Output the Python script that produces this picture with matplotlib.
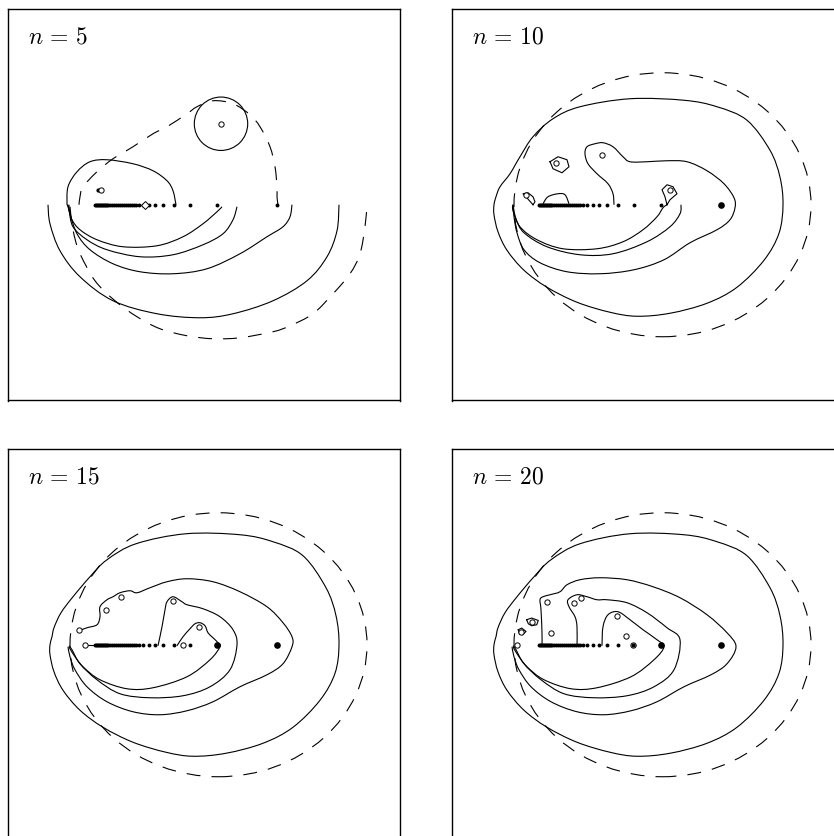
import numpy as np
import matplotlib.pyplot as plt
from matplotlib.patches import Ellipse, Circle, PathPatch
from matplotlib.path import Path

plt.rc('mathtext', fontset='cm')
plt.rc('lines', scale_dashes=False)

LW = 0.8
DASH = (10, 8)

labels = [r'$n\, =\, 5$', r'$n\, =\, 10$', r'$n\, =\, 15$', r'$n\, =\, 20$']

# points on the real axis (same sequence for every n)
axis_x = [87, 88, 89, 90, 91, 92, 93, 94, 95, 96, 97, 98, 99, 100, 102, 104,
          106, 108, 110, 112, 114, 116, 118, 120, 122, 124, 126, 128, 131,
          135, 141, 147, 155, 166, 182, 209, 269]

# ---- n = 5 ----
n5_dash_upper = [(71, 0), (72, 8), (75, 18), (89, 33), (105, 46), (125, 58),
                 (145, 71), (159, 78), (179, 91), (189, 98), (205, 104),
                 (225, 101), (242, 90), (252, 78), (262, 58), (267, 38),
                 (269, 18), (269, 8), (270, 0)]
n5_dash_lower = [(62, -2), (64, -19), (67, -34), (72, -49), (87, -76),
                 (107, -96), (129, -112), (152, -124), (179, -131), (205, -134),
                 (232, -133), (265, -127), (282, -121), (305, -109), (325, -89),
                 (342, -69), (352, -49), (357, -22), (359, 0)]
n5_circle = (213, 81, 26.7)
n5_loop = [(168, 0), (165, 14), (159, 24), (145, 34), (125, 41), (99, 45),
           (82, 43), (69, 33), (60, 18), (59, 0)]
n5_a = [(59, 0), (60, -2), (64, -15), (72, -25), (89, -35), (115, -42),
        (149, -41), (175, -32), (195, -19), (209, -7), (214, -2)]
n5_b = [(60, 0), (61, -5), (65, -22), (79, -35), (99, -45), (132, -52),
        (165, -50), (195, -40), (215, -29), (225, -15), (229, -2)]
n5_c = [(61, 0), (62, -9), (69, -29), (82, -45), (105, -59), (132, -67),
        (165, -69), (199, -64), (232, -49), (259, -32), (275, -22), (282, -12),
        (284, 0)]
n5_arc = [(40, 0), (42, -19), (52, -46), (72, -72), (105, -96), (149, -109),
          (192, -113), (225, -109), (265, -96), (299, -76), (319, -52),
          (329, -26), (331, 0)]

# ---- shared by n = 10, 15, 20 ----
ell_center = (210.5, 0)
ell_w, ell_h = 297, 264
outer_low = [(331, 0), (327, -28.5), (312, -55.5), (285, -82.5),
             (255, -98.5), (218, -108.5), (185, -111.5), (158, -107.5),
             (125, -97.5), (95, -82.5), (72, -65.5), (55, -45.5), (46, -27),
             (42, -10), (42, 0)]
outer_up10 = [(42, 0), (44, 8), (48, 18), (58, 31), (68, 48), (81, 68),
              (101, 86), (128, 98), (178, 106), (232, 104.5), (265, 98),
              (295, 84.5), (318, 54.5), (328, 27.5), (331, 0)]
outer_up15 = [(42, 0), (44, 8), (46, 17), (53, 32), (65, 48), (82, 68),
              (99, 85), (128, 101), (178, 111), (232, 110), (265, 103),
              (295, 89), (318, 57), (328, 29), (331, 0)]
lower_mid = [(222, -25), (202, -42), (175, -51), (142, -53), (112, -49),
             (89, -35), (72, -19), (64, -5), (61, -1)]
lower_in = [(212, -2), (202, -15), (179, -32), (145, -43), (119, -44),
            (92, -35), (75, -22), (65, -9), (61, -2)]
lower_out = [(284, -2), (275, -19), (259, -30), (232, -42), (205, -57),
             (179, -66), (152, -70), (125, -67), (99, -57), (79, -42),
             (67, -25), (62, -12), (60, -2)]

# ---- n = 10 ----
n10_big = [(162, 0), (161, 11), (156, 21), (145, 31), (136, 41), (133, 51),
           (135, 58), (143, 61), (151, 62), (161, 58), (171, 48), (178, 43),
           (195, 43), (215, 44), (235, 43), (255, 34), (272, 21), (282, 7),
           (283, -3), (278, -15), (265, -25), (238, -38), (212, -55),
           (182, -65), (148, -69), (115, -67), (88, -58), (72, -45), (65, -28),
           (62, -12), (61, 0)]
n10_a = [(61, 0), (61, -6), (68, -22), (85, -35), (111, -44), (145, -44),
         (171, -37), (191, -25), (205, -12), (211, -3), (215, 0)]
n10_b = [(61, 0), (64, -14), (72, -28), (95, -42), (128, -50), (161, -49),
         (195, -37), (218, -22), (228, -9), (229, 0)]
n10_hex = [(98, 43), (106, 48), (115, 45), (117, 38), (110, 32), (101, 36),
           (98, 43)]
n10_pent = [(215, 0), (218, 5), (225, 11), (221, 18), (215, 20), (210, 15),
            (213, 8), (215, 0)]
n10_lobe = [(81, 0), (83, 3), (81, 8), (76, 12), (71, 11), (74, 8),
            (77, 4.5), (81, 0)]
n10_hump = [(91, 1), (96, 8), (106, 11), (113, 10), (117, 1)]
n10_open = [(104, 42), (150, 50), (218, 14.5), (74, 9.5)]

# ---- n = 15 ----
n15_big = [(71, 14), (79, 17), (89, 20), (92, 28), (92, 38), (99, 45),
           (105, 48), (112, 52), (122, 54), (129, 52), (142, 57), (159, 63),
           (179, 66), (205, 63), (232, 53), (259, 38), (275, 22), (284, 8)]
n15_finger = [(150, -1), (154, 18), (157, 35), (159, 43), (165, 48),
              (174, 43), (179, 40), (195, 36), (212, 28), (225, 15),
              (229, 0)]
n15_hump = [(169, -1), (175, 8), (182, 16), (187, 21), (192, 22), (197, 19),
            (200, 12), (205, 7), (210, 2)]
n15_stub = [(77, 0), (87, 0)]
n15_open = [(77, 0), (175, 0), (71.3, 14.3), (98, 35), (113, 47.3),
            (164.7, 43.3), (191, 17.7)]

# ---- n = 20 ----
n20_big = [(90, -1), (90, 12), (89, 35), (88, 45), (91, 48), (98, 50),
           (108, 53), (115, 60), (128, 65), (148, 67), (175, 65), (201, 58),
           (228, 47), (255, 30), (275, 12)]
n20_finger = [(125, -1), (125, 18), (123, 28), (117, 38), (116, 45),
              (125, 50), (135, 48), (145, 45), (155, 45), (175, 42),
              (195, 32), (215, 17), (228, 5)]
n20_hump = [(150, -1), (151, 18), (156, 30), (166, 33), (178, 25),
            (191, 15), (205, 5)]
n20_pent = [(74.7, 25), (79.7, 26.7), (86.3, 24.3), (84.7, 20), (79.7, 19),
            (76.3, 21), (74.7, 25)]
n20_small = [(66.3, 15), (69.7, 16.7), (74, 13.3), (70.7, 10), (67.3, 11),
             (66.3, 15)]
n20_open = [(65.3, 0), (181, 0), (94.7, 42.3), (99, 11.7), (122.3, 41.3),
            (129.3, 46.3), (165.3, 28.3), (173.7, 9), (80, 22.7), (69.5, 13)]


def smooth(pts):
    # cubic Bezier path through every listed point (Catmull-Rom tangents)
    p = np.asarray(pts, float)
    keep = np.r_[True, np.any(np.diff(p, axis=0) != 0, axis=1)]
    p = p[keep]
    closed = np.allclose(p[0], p[-1]) and len(p) > 3
    if closed:
        ext = np.vstack([p[-2], p, p[1]])
    else:
        ext = np.vstack([p[0], p, p[-1]])
    verts = [p[0]]
    codes = [Path.MOVETO]
    for i in range(len(p) - 1):
        q0, q1, q2, q3 = ext[i], ext[i + 1], ext[i + 2], ext[i + 3]
        verts += [q1 + (q2 - q0) / 6, q2 - (q3 - q1) / 6, q2]
        codes += [Path.CURVE4] * 3
    return Path(verts, codes)


def curve(ax, pts, dashed=False):
    ls = (0, DASH) if dashed else '-'
    ax.add_patch(PathPatch(smooth(pts), fill=False, edgecolor='k', lw=LW,
                           linestyle=ls, capstyle='butt'))


def poly(ax, pts):
    p = np.asarray(pts, float)
    ax.plot(p[:, 0], p[:, 1], color='k', lw=LW)


def dots(ax, xs, big=()):
    small = [x for x in xs if x not in big]
    ax.plot(small, np.zeros(len(small)), 'o', color='k', ms=2.8, mew=0, zorder=5)
    if big:
        ax.plot(big, np.zeros(len(big)), 'o', color='k', ms=4.8, mew=0, zorder=5)


def opens(ax, pts):
    p = np.asarray(pts, float)
    ax.plot(p[:, 0], p[:, 1], 'o', mfc='white', mec='k', ms=3.8, mew=0.7,
            zorder=6)


def shared(ax, upper):
    ax.add_patch(Ellipse(ell_center, ell_w, ell_h, fill=False, color='k',
                         lw=LW, linestyle=(0, DASH)))
    curve(ax, upper + outer_low[1:])


fig = plt.figure(figsize=(8.34, 8.36), dpi=100)
W, H = 834, 836
boxes = [(8, 9), (452, 9), (8, 449), (452, 449)]
axes = []
for (l, t), lab in zip(boxes, labels):
    ax = fig.add_axes([l / W, (H - t - 391.5) / H, 392 / W, 391.5 / H])
    ax.set_xlim(0, 392)
    ax.set_ylim(-195.75, 195.75)
    ax.set_xticks([])
    ax.set_yticks([])
    for s in ax.spines.values():
        s.set_linewidth(1.0)
    ax.text(20 / 392, 1 - 34 / 391.5, lab, transform=ax.transAxes,
            fontsize=17, ha='left', va='baseline')
    axes.append(ax)

# n = 5
ax = axes[0]
curve(ax, n5_dash_upper, dashed=True)
curve(ax, n5_dash_lower, dashed=True)
cx, cy, r = n5_circle
ax.add_patch(Circle((cx, cy), r, fill=False, color='k', lw=LW))
for c in (n5_loop, n5_a, n5_b, n5_c, n5_arc):
    curve(ax, c)
dots(ax, axis_x)
ax.plot([137], [0], 'D', mfc='white', mec='k', ms=4, mew=0.7, zorder=6)
ax.plot([90], [14.5], 'o', color='k', ms=2, zorder=6)
opens(ax, [(93, 14.5), (213, 81)])

# n = 10
ax = axes[1]
shared(ax, outer_up10)
for c in (n10_big, n10_a, n10_b, n10_hump):
    curve(ax, c)
for c in (n10_hex, n10_pent, n10_lobe):
    poly(ax, c)
dots(ax, axis_x, big=[269])
opens(ax, n10_open)

# n = 15
ax = axes[2]
shared(ax, outer_up15)
curve(ax, n15_big + lower_out)
curve(ax, n15_finger + lower_mid)
curve(ax, n15_hump + lower_in)
poly(ax, n15_stub)
dots(ax, axis_x, big=[209, 269])
opens(ax, n15_open)

# n = 20
ax = axes[3]
shared(ax, outer_up15)
curve(ax, n20_big + lower_out)
curve(ax, n20_finger + lower_mid)
curve(ax, n20_hump + lower_in)
poly(ax, n20_pent)
poly(ax, n20_small)
dots(ax, axis_x, big=[209, 269])
opens(ax, n20_open)
ax.plot([181], [0], 'o', color='k', ms=2, zorder=7)

fig.savefig('out.png', dpi=100)
